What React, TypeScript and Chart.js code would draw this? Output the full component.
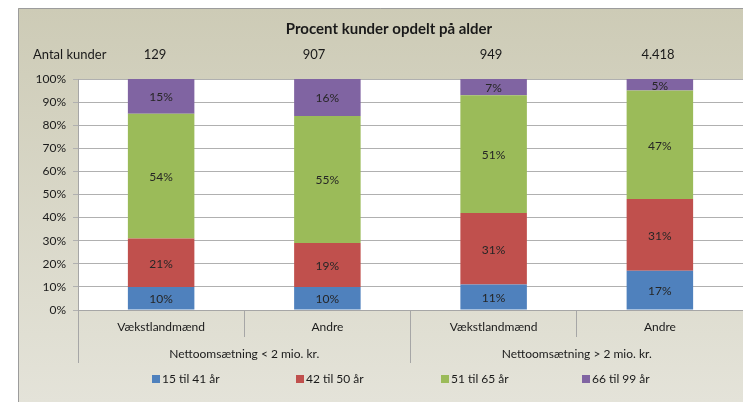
import React, { useEffect, useRef } from 'react';
import { Chart, registerables } from 'chart.js';

Chart.register(...registerables);

const chartTitle = 'Procent kunder opdelt på alder';
const antalLabel = 'Antal kunder';
const antalKunder = ['129', '907', '949', '4.418'];
const categories = ['Vækstlandmænd', 'Andre', 'Vækstlandmænd', 'Andre'];
const groups = ['Nettoomsætning < 2 mio. kr.', 'Nettoomsætning > 2 mio. kr.'];
const seriesNames = ['15 til 41 år', '42 til 50 år', '51 til 65 år', '66 til 99 år'];
const age15to41 = [10, 10, 11, 17];
const age42to50 = [21, 19, 31, 31];
const age51to65 = [54, 55, 51, 47];
const age66to99 = [15, 16, 7, 5];
const seriesColors = ['#4f81bd', '#c0504d', '#9bbb59', '#8064a2'];

const FONT = 'Lato, "Open Sans", sans-serif';

const decorPlugin = {
  id: 'decor',
  beforeDraw(chart: any) {
    const { ctx, chartArea } = chart;
    ctx.save();
    ctx.fillStyle = '#ffffff';
    ctx.fillRect(0, 0, chart.width, chart.height);
    const g = ctx.createLinearGradient(0, 8, 0, chart.height);
    g.addColorStop(0, '#cdcbb6');
    g.addColorStop(1, '#e4e3d9');
    ctx.fillStyle = g;
    ctx.fillRect(18, 8, chart.width - 18, chart.height - 8);
    ctx.strokeStyle = '#9c9c9c';
    ctx.lineWidth = 1;
    ctx.beginPath();
    ctx.moveTo(18.5, chart.height);
    ctx.lineTo(18.5, 8.5);
    ctx.lineTo(chart.width, 8.5);
    ctx.stroke();
    ctx.fillStyle = '#ffffff';
    ctx.fillRect(chartArea.left, chartArea.top, chartArea.right - chartArea.left, chartArea.bottom - chartArea.top);
    ctx.restore();
  },
  afterDatasetsDraw(chart: any) {
    const { ctx } = chart;
    ctx.save();
    ctx.font = '12px ' + FONT;
    ctx.fillStyle = '#262626';
    ctx.textAlign = 'center';
    ctx.textBaseline = 'middle';
    chart.data.datasets.forEach((ds: any, di: number) => {
      const meta = chart.getDatasetMeta(di);
      meta.data.forEach((bar: any, i: number) => {
        const top = bar.y;
        const bottom = bar.base;
        ctx.fillText(ds.data[i] + '%', bar.x, (top + bottom) / 2 + 1);
      });
    });
    ctx.restore();
  },
  afterDraw(chart: any) {
    const { ctx } = chart;
    ctx.save();
    ctx.fillStyle = '#1a1a1a';
    ctx.textBaseline = 'middle';
    ctx.textAlign = 'center';
    ctx.font = 'bold 15px ' + FONT;
    ctx.fillText(chartTitle, 389, 29);
    ctx.font = '13px ' + FONT;
    ctx.textAlign = 'left';
    ctx.fillText(antalLabel, 33, 55);
    ctx.textAlign = 'center';
    const antalX = [155, 314, 491, 658];
    antalKunder.forEach((t, i) => ctx.fillText(t, antalX[i], 55));
    // legend
    const legendX = [152, 296, 441, 582];
    ctx.font = '12px ' + FONT;
    ctx.textAlign = 'left';
    seriesNames.forEach((name, i) => {
      ctx.fillStyle = seriesColors[i];
      ctx.fillRect(legendX[i], 375, 8, 8);
      ctx.fillStyle = '#1a1a1a';
      ctx.fillText(name, legendX[i] + 10, 379);
    });
    ctx.restore();
  },
};

export default function App() {
  const ref = useRef<HTMLCanvasElement>(null);
  useEffect(() => {
    if (!ref.current) return;
    const seriesData = [age15to41, age42to50, age51to65, age66to99];
    const chart = new Chart(ref.current, {
      type: 'bar',
      data: {
        labels: categories,
        datasets: seriesNames.map((name, i) => ({
          label: name,
          data: seriesData[i],
          backgroundColor: seriesColors[i],
          borderWidth: 0,
          barPercentage: 0.4,
          categoryPercentage: 1,
          xAxisID: 'x',
        })),
      },
      options: {
        responsive: false,
        animation: false,
        layout: { padding: { top: 79, bottom: 39, left: 0, right: 0 } },
        plugins: {
          legend: { display: false },
          tooltip: { enabled: false },
          title: { display: false },
        },
        scales: {
          x: {
            type: 'category',
            position: 'bottom',
            stacked: true,
            weight: 0,
            offset: true,
            grid: {
              offset: true,
              drawOnChartArea: false,
              drawTicks: true,
              tickLength: 27,
              color: '#a6a6a6',
            },
            border: { color: '#a6a6a6' },
            ticks: {
              padding: -17,
              color: '#1a1a1a',
              font: { family: FONT, size: 12 },
              maxRotation: 0,
              autoSkip: false,
            },
            afterFit: (s: any) => { s.height = 27; },
          },
          x2: {
            type: 'category',
            position: 'bottom',
            labels: groups,
            weight: 1,
            offset: true,
            grid: {
              offset: true,
              drawOnChartArea: false,
              drawTicks: true,
              tickLength: 26,
              color: '#a6a6a6',
            },
            border: { display: false },
            ticks: {
              padding: -16,
              color: '#1a1a1a',
              font: { family: FONT, size: 12 },
              maxRotation: 0,
              autoSkip: false,
            },
            afterFit: (s: any) => { s.height = 26; },
          },
          y: {
            stacked: true,
            min: 0,
            max: 100,
            grid: { color: '#b0b0b0', tickLength: 5 },
            border: { color: '#a6a6a6' },
            ticks: {
              stepSize: 10,
              padding: 7,
              color: '#1a1a1a',
              font: { family: FONT, size: 12 },
              callback: (v: any) => v + '%',
            },
            afterFit: (s: any) => { s.width = 78; },
          },
        },
      },
      plugins: [decorPlugin],
    } as any);
    return () => chart.destroy();
  }, []);
  return (
    <div style={{ position: 'fixed', left: 0, top: 0, width: 743, height: 402 }}>
      <canvas ref={ref} width={743} height={402} style={{ display: 'block' }} />
    </div>
  );
}
